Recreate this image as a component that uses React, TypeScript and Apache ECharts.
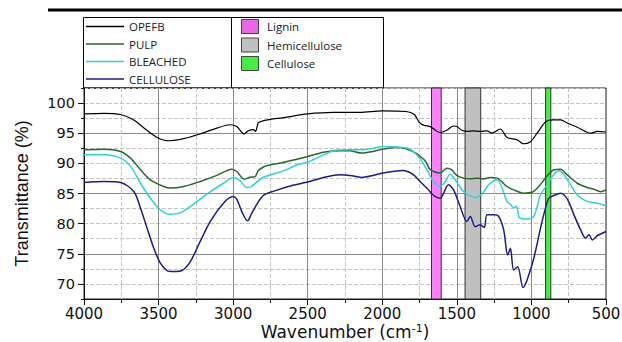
import React, { useEffect, useRef } from "react";
import * as echarts from "echarts";

const seriesNames = ["OPEFB", "PULP", "BLEACHED", "CELLULOSE"];
const seriesColors = ["#000000", "#2b662b", "#2fd3d3", "#1c1c8c"];

const opefb: [number, number][] = [
  [4000, 98.2], [3866, 98.3], [3755, 98.1], [3666, 97.2], [3600, 95.9], [3510, 94.3], [3432, 93.75],
  [3332, 94.1], [3220, 94.9], [3109, 95.85], [3020, 96.4], [2976, 96.1], [2926, 94.9], [2898, 95.4],
  [2864, 95.6], [2850, 95.3], [2831, 96.7], [2795, 97.1], [2659, 97.6], [2500, 98.2], [2327, 98.45],
  [2150, 98.45], [2000, 98.7], [1841, 98.6], [1785, 98.1], [1752, 96.8], [1719, 96.3], [1679, 96.1],
  [1612, 95.1], [1567, 95.5], [1522, 96.2], [1500, 96.1], [1466, 95.5], [1433, 95.3], [1388, 95.4],
  [1343, 95.3], [1298, 95.4], [1265, 95.0], [1209, 95.7], [1164, 94.3], [1096, 93.9], [1052, 93.25],
  [1007, 93.6], [962, 95.0], [906, 96.85], [861, 97.2], [805, 97.2], [760, 96.7], [693, 96.0],
  [603, 95.0], [558, 95.3], [500, 95.2],
];

const pulp: [number, number][] = [
  [4000, 92.25], [3866, 92.36], [3755, 91.97], [3688, 90.87], [3621, 88.93], [3555, 87.27], [3465, 86.16],
  [3421, 85.9], [3332, 86.16], [3220, 87.0], [3109, 88.0], [3009, 89.04], [2976, 88.65], [2926, 87.38],
  [2886, 87.7], [2853, 87.8], [2831, 88.8], [2797, 89.4], [2770, 89.65], [2659, 90.2], [2500, 91.15],
  [2394, 91.86], [2283, 92.09], [2217, 92.09], [2139, 91.7], [2062, 91.98], [1996, 92.36], [1907, 92.64],
  [1841, 92.4], [1774, 91.7], [1747, 91.15], [1719, 90.6], [1702, 90.0], [1686, 89.2], [1657, 88.65],
  [1612, 88.4], [1567, 89.2], [1534, 88.93], [1500, 88.0], [1455, 87.55], [1410, 87.44], [1365, 87.55],
  [1321, 87.4], [1276, 87.66], [1231, 87.55], [1164, 86.16], [1119, 85.6], [1052, 85.06], [996, 85.2],
  [951, 86.16], [895, 87.9], [850, 88.93], [805, 89.04], [760, 88.1], [693, 86.7], [626, 86.0],
  [581, 85.7], [536, 85.3], [500, 85.6],
];

const bleached: [number, number][] = [
  [4000, 91.42], [3866, 91.42], [3755, 90.87], [3688, 89.5], [3621, 86.7], [3555, 84.2], [3488, 82.3],
  [3432, 81.57], [3365, 81.7], [3287, 82.85], [3176, 84.9], [3065, 86.7], [2998, 87.66], [2953, 87.1],
  [2909, 86.0], [2880, 86.1], [2864, 86.44], [2836, 87.0], [2797, 87.7], [2748, 88.1], [2659, 88.8],
  [2571, 89.76], [2500, 90.2], [2394, 91.4], [2305, 92.2], [2217, 92.25], [2139, 92.25], [2062, 92.5],
  [1996, 92.8], [1907, 92.7], [1819, 92.4], [1750, 90.9], [1705, 89.1], [1686, 88.2], [1657, 87.0],
  [1612, 86.16], [1578, 87.0], [1545, 88.2], [1511, 87.27], [1466, 85.6], [1422, 84.78], [1377, 84.34],
  [1332, 84.9], [1287, 86.44], [1231, 87.27], [1197, 85.9], [1164, 83.67], [1140, 83.2], [1119, 82.6],
  [1100, 82.9], [1085, 81.2], [1074, 80.9], [1029, 80.75], [984, 81.2], [939, 84.78], [895, 86.44],
  [861, 87.8], [816, 88.76], [783, 88.2], [738, 86.44], [693, 84.78], [648, 83.95], [603, 83.56],
  [558, 83.4], [500, 83.0],
];

const cellulose: [number, number][] = [
  [4000, 86.83], [3866, 87.0], [3755, 86.83], [3666, 85.33], [3621, 82.57], [3577, 79.25], [3532, 75.93],
  [3488, 73.44], [3443, 72.22], [3399, 72.05], [3343, 72.22], [3287, 73.7], [3232, 76.48], [3154, 80.35],
  [3065, 83.4], [3002, 84.5], [2976, 84.06], [2942, 82.0], [2904, 80.46], [2875, 81.74], [2836, 83.4],
  [2797, 84.7], [2726, 85.4], [2593, 86.4], [2500, 86.9], [2394, 87.66], [2283, 88.1], [2217, 88.0],
  [2139, 87.66], [2062, 88.0], [1996, 88.4], [1929, 88.65], [1863, 88.8], [1796, 88.2], [1747, 87.0],
  [1702, 85.9], [1646, 84.5], [1612, 84.23], [1556, 86.44], [1522, 85.6], [1478, 82.85], [1433, 80.35],
  [1410, 81.2], [1377, 79.5], [1343, 79.8], [1316, 79.36], [1298, 81.46], [1253, 81.46], [1220, 81.2],
  [1186, 78.97], [1159, 74.8], [1141, 75.9], [1119, 72.3], [1092, 72.86], [1056, 69.4], [1029, 70.65],
  [984, 74.26], [939, 79.25], [906, 82.57], [883, 84.23], [850, 84.67], [805, 85.06], [760, 84.12],
  [715, 81.46], [670, 78.97], [637, 77.6], [614, 78.14], [592, 77.3], [558, 78.0], [525, 78.4], [500, 78.7],
];

const seriesData = [opefb, pulp, bleached, cellulose];

const bandNames = ["Lignin", "Hemicellulose", "Cellulose"];
const bandRanges: [number, number][] = [[1670, 1605], [1445, 1340], [905, 870]];
const bandColors = ["#ff80ff", "#c0c0c0", "#44ee44"];
const bandSwatchColors = ["#e866e8", "#c0c0c0", "#44ee44"];

const yMajorTicks = [70, 75, 80, 85, 90, 95, 100];

export default function App() {
  const ref = useRef<HTMLDivElement>(null);
  useEffect(() => {
    document.body.style.margin = "0";
    const chart = echarts.init(ref.current!, null, { renderer: "svg" });
    const legendFont = "Open Sans";
    const rowY = [26.5, 44, 61.5, 79];
    const swY = [26.5, 45, 63.5];
    const graphic: any[] = [
      { type: "line", shape: { x1: 48, y1: 10, x2: 622, y2: 10 }, style: { stroke: "#000", lineWidth: 3 } },
      { type: "rect", shape: { x: 83.5, y: 17.5, width: 300, height: 70.5 }, style: { fill: "none", stroke: "#000", lineWidth: 1 } },
      { type: "line", shape: { x1: 231.5, y1: 17.5, x2: 231.5, y2: 88 }, style: { stroke: "#000", lineWidth: 1 } },
    ];
    seriesNames.forEach((n, i) => {
      graphic.push({ type: "line", shape: { x1: 86, y1: rowY[i], x2: 124, y2: rowY[i] }, style: { stroke: seriesColors[i], lineWidth: 1.5 } });
      graphic.push({ type: "text", x: 129, y: rowY[i], style: { text: n, fill: "#222", font: `11.5px "${legendFont}"`, textVerticalAlign: "middle" } });
    });
    bandNames.forEach((n, i) => {
      graphic.push({ type: "rect", shape: { x: 241.5, y: swY[i] - 7, width: 17, height: 14 }, style: { fill: bandSwatchColors[i], stroke: "#444", lineWidth: 1 } });
      graphic.push({ type: "text", x: 267, y: swY[i], style: { text: n, fill: "#222", font: `11.5px "${legendFont}"`, textVerticalAlign: "middle" } });
    });

    const option: any = {
      animation: false,
      backgroundColor: "#fff",
      grid: { left: 84, right: 16, top: 88, bottom: 43, show: true, borderColor: "#222", borderWidth: 1, outerBoundsMode: "none", containLabel: false },
      xAxis: {
        type: "value", min: 500, max: 4000, interval: 500, inverse: true,
        axisLine: { show: true, onZero: false, lineStyle: { color: "#111" } },
        axisTick: { show: true, length: 6, lineStyle: { color: "#111" } },
        minorTick: { show: true, splitNumber: 2, length: 4, lineStyle: { color: "#111" } },
        splitLine: { show: true, lineStyle: { color: "#8a8a8a" } },
        minorSplitLine: { show: true, lineStyle: { color: "#c4c4c4", type: "dashed" } },
        axisLabel: { fontSize: 15, lineHeight: 16, color: "#111", fontFamily: "DejaVu Sans", margin: 7, formatter: (v: number) => String(v) },
        name: "Wavenumber (cm{sup|-1})",
        nameLocation: "middle", nameGap: 24, nameMoveOverlap: false,
        nameTextStyle: {
          fontSize: 17, color: "#111", fontFamily: "DejaVu Sans", verticalAlign: "top",
          rich: { sup: { fontSize: 11, color: "#111", fontFamily: "DejaVu Sans", verticalAlign: "top", padding: [0, 0, 5, 0] } },
        },
      },
      yAxis: [
        {
          type: "value", min: 67.5, max: 102.5, interval: 2.5,
          axisLine: { show: true, onZero: false, lineStyle: { color: "#111" } },
          axisTick: { show: true, length: 3, lineStyle: { color: "#111" } },
          splitLine: { show: true, lineStyle: { color: "#c4c4c4", type: "dashed" } },
          axisLabel: {
            fontSize: 14.5, color: "#111", fontFamily: "DejaVu Sans", margin: 9,
            formatter: (v: number) => (yMajorTicks.includes(v) ? String(v) : ""),
          },
          name: "Transmittance (%)", nameLocation: "middle", nameGap: 53, nameMoveOverlap: false,
          nameTextStyle: { fontSize: 18, color: "#111", fontFamily: "Liberation Sans" },
        },
        {
          type: "value", min: 67.5, max: 102.5, interval: 2.5, position: "left",
          axisLine: { show: false },
          axisTick: { show: true, length: 6, lineStyle: { color: "#111" }, customValues: yMajorTicks },
          axisLabel: { show: false },
          splitLine: { show: true, lineStyle: { color: ["rgba(0,0,0,0)", "#8a8a8a"] } },
        },
      ],
      graphic,
      series: [
        {
          name: "bands", type: "line", data: [], silent: true,
          markArea: {
            silent: true,
            data: bandRanges.map((r, i) => [
              { name: bandNames[i], xAxis: r[0], itemStyle: { color: bandColors[i], borderColor: "#333", borderWidth: 1 } },
              { xAxis: r[1] },
            ]),
            label: { show: false },
          },
        },
        ...seriesNames.map((n, i) => ({
          name: n, type: "line", data: seriesData[i], showSymbol: false, smooth: 0.3,
          lineStyle: { color: seriesColors[i], width: i === 0 ? 1.2 : 1.5 },
          itemStyle: { color: seriesColors[i] },
        })),
      ],
    };
    chart.setOption(option);
    return () => chart.dispose();
  }, []);
  return <div ref={ref} style={{ position: "absolute", left: 0, top: 0, width: 622, height: 342 }} />;
}
